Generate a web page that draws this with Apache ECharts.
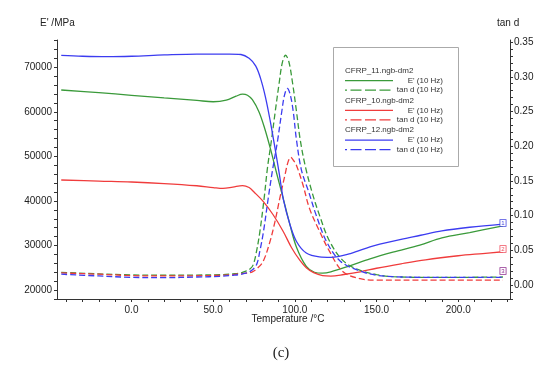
<!DOCTYPE html>
<html>
<head>
<meta charset="utf-8">
<script src="https://cdn.jsdelivr.net/npm/echarts@6/dist/echarts.min.js"></script>
<style>
html,body{margin:0;padding:0;background:#fff;}
#chart{width:550px;height:370px;}
</style>
</head>
<body>
<div id="chart"></div>
<script>
// ---------- data ----------
// E' (MPa), left axis
const t11E = [-43,-20,0,20,40,50,58,64,68,71,74,78,81.5,85.2,88.3,92.7,96.9,101,107,112,117,122,134,146,160,176.5,190,207,227.4];
const v11E = [64880,64300,63700,63100,62550,62250,62600,63500,63950,63700,62700,60000,56300,51500,47000,40800,34800,29600,25300,24000,23800,24100,25500,27000,28500,30100,31700,32900,34400];

const t10E = [-43,-20,0,20,40,50,56,62,68,72,75,80.6,86.7,92.8,98,103,107,111.5,117,122,130,140,150,165,180,200,215,227.4];
const v10E = [44700,44450,44250,43900,43400,43000,42800,43100,43450,43000,42000,39900,36900,33200,29500,26700,25000,23900,23250,23150,23500,24100,24900,25900,26800,27700,28200,28600];

const t12E = [-43,-30,-15,0,20,40,60,67,72,76,79,82,85,88,90.5,93,97,101,107,115,122,134,146,152,165,177,190,207,227.4];
const v12E = [72650,72450,72350,72450,72750,72950,72950,72850,72000,70300,67500,63300,57800,51500,46000,40300,34700,30900,28300,27450,27350,28200,29700,30300,31400,32300,33300,34100,34800];

// tan d, right axis
const t11T = [-43,-20,0,20,40,55,62,66,70,72.5,74.5,76.5,78.6,81.2,83.3,85.7,88,90.4,92.3,94.3,96.3,98.6,101,103.3,106.5,110.5,115,121.5,130,140,150,160,180,200,227.4];
const v11T = [0.0183,0.016,0.0145,0.014,0.0143,0.0148,0.016,0.0169,0.02,0.023,0.029,0.048,0.077,0.125,0.170,0.209,0.25,0.291,0.320,0.331,0.322,0.291,0.25,0.209,0.17,0.134,0.101,0.062,0.034,0.021,0.015,0.012,0.011,0.011,0.0115];

const t10T = [-43,-20,0,20,40,55,62,66,70,74,77,80.6,84.7,87.8,90.8,93.9,95.8,97.5,99.3,100.9,105,109,115.2,121.3,129.5,140,150,180,227.4];
const v10T = [0.0173,0.0155,0.0135,0.013,0.0133,0.014,0.015,0.016,0.017,0.019,0.024,0.034,0.062,0.091,0.125,0.158,0.177,0.184,0.179,0.173,0.144,0.110,0.077,0.048,0.019,0.009,0.007,0.007,0.007];

const t12T = [-43,-20,0,20,40,55,62,66,70,73,76.5,78.5,80.8,83.7,86.5,89.5,92,93.7,95.4,97.2,99,101,104,108.5,113,119.5,128,140,150,160,180,200,227.4];
const v12T = [0.0155,0.013,0.011,0.0105,0.0115,0.0125,0.014,0.015,0.017,0.02,0.029,0.048,0.077,0.125,0.168,0.209,0.25,0.274,0.2834,0.274,0.25,0.209,0.166,0.134,0.101,0.062,0.034,0.02,0.014,0.012,0.011,0.011,0.011];

// axes
const xLabels = [0,50,100,150,200];
const leftLabels = [20000,30000,40000,50000,60000,70000];
const rightLabels = [0,0.05,0.10,0.15,0.20,0.25,0.30,0.35];

const names = ['CFRP_11.ngb-dm2','CFRP_10.ngb-dm2','CFRP_12.ngb-dm2'];
const colors = ['#3a9a3a','#f03c3c','#3c3cf0'];

// ---------- helpers ----------
function zip(t, v){ return t.map((x,i)=>[x, v[i]]); }
function range(a, b, s){ const r=[]; for(let i=0;a+i*s<=b+1e-9;i++) r.push(+(a+i*s).toFixed(6)); return r; }

const axisLineStyle = {color:'#333', width:1};
const labelStyle = {color:'#222', fontSize:10, fontFamily:'Liberation Sans, Arial, sans-serif'};

function lineSeries(name, data, color, dashed, yIdx){
  return {
    name, type:'line', data, yAxisIndex:yIdx, showSymbol:false, symbol:'none',
    smooth:0.35,
    lineStyle:{color, width:1.3, type: dashed ? [6,3] : 'solid'},
    emphasis:{disabled:true}, silent:true, animation:false
  };
}

const series = [
  lineSeries(names[0]+" E'", zip(t11E,v11E), colors[0], false, 0),
  lineSeries(names[0]+" tan d", zip(t11T,v11T), colors[0], true, 1),
  lineSeries(names[1]+" E'", zip(t10E,v10E), colors[1], false, 0),
  lineSeries(names[1]+" tan d", zip(t10T,v10T), colors[1], true, 1),
  lineSeries(names[2]+" E'", zip(t12E,v12E), colors[2], false, 0),
  lineSeries(names[2]+" tan d", zip(t12T,v12T), colors[2], true, 1)
];

// ---------- legend (drawn as graphics) ----------
const lg = [];
const bx = 333, by = 47;
lg.push({type:'rect', shape:{x:bx+0.5, y:by+0.5, width:125, height:119}, style:{fill:'#fff', stroke:'#aaa', lineWidth:1}, z:10});
const font8 = '8px "Liberation Sans", Arial, sans-serif';
function txt(x,y,text,align,fill,font){
  return {type:'text', x, y, z:11, style:{text, font: font||font8, fill: fill||'#333',
    align: align||'left', verticalAlign:'middle', textAlign: align||'left', textVerticalAlign:'middle'}};
}
names.forEach((n,i)=>{
  const y0 = 70.7 + i*29.7;
  lg.push(txt(345, y0, n));
  lg.push({type:'line', z:11, shape:{x1:345,y1:y0+10,x2:393,y2:y0+10}, style:{stroke:colors[i], lineWidth:1.2}});
  lg.push(txt(443, y0+10, "E' (10 Hz)", 'right'));
  lg.push({type:'line', z:11, shape:{x1:345,y1:y0+19.5,x2:347,y2:y0+19.5}, style:{stroke:colors[i], lineWidth:1.2}});
  lg.push({type:'line', z:11, shape:{x1:350.5,y1:y0+19.5,x2:392,y2:y0+19.5}, style:{stroke:colors[i], lineWidth:1.2, lineDash:[11,3.5]}});
  lg.push(txt(443, y0+19.5, "tan d (10 Hz)", 'right'));
});

// axis names and caption
const font10 = '10px "Liberation Sans", Arial, sans-serif';
lg.push(txt(40, 23, "E' /MPa", 'left', '#222', font10));
lg.push(txt(497, 23, "tan d", 'left', '#222', font10));
lg.push(txt(288, 319, "Temperature /°C", 'center', '#222', font10));
lg.push(txt(281, 353, "(c)", 'center', '#222', '15px "Liberation Serif", "Times New Roman", serif'));

// end markers
function marker(x,y,t,c){
  return {type:'text', x, y, z:12, style:{text:t, font:'6px "Liberation Sans", Arial, sans-serif', fill:c,
    align:'center', verticalAlign:'middle', textAlign:'center', textVerticalAlign:'middle',
    borderColor:c, borderWidth:0.8, padding:[0,1,0,1], backgroundColor:'#fff'}};
}
lg.push(marker(503, 223, '1', '#4a4ae0'));
lg.push(marker(503, 249, '2', '#f05060'));
lg.push(marker(503, 271, '3', '#903090'));

const option = {
  animation:false,
  backgroundColor:'#fff',
  grid:{left:57, right:40, top:40, bottom:71, containLabel:false},
  xAxis:{
    type:'value', min:-45.6, max:231.7,
    axisLine:{show:true, onZero:false, lineStyle:axisLineStyle},
    axisTick:{show:true, inside:false, length:3, lineStyle:axisLineStyle, customValues: range(-40,230,10)},
    axisLabel:{...labelStyle, margin:6, customValues: xLabels, formatter:v=>Number(v).toFixed(1)},
    splitLine:{show:false}
  },
  yAxis:[{
    type:'value', min:18000, max:76100, position:'left',
    axisLine:{show:true, onZero:false, lineStyle:axisLineStyle},
    axisTick:{show:true, inside:false, length:3, lineStyle:axisLineStyle, customValues: range(18000,76000,2000)},
    axisLabel:{...labelStyle, margin:5, customValues: leftLabels, formatter:v=>String(Math.round(v))},
    splitLine:{show:false}
  },{
    type:'value', min:-0.0202, max:0.353, position:'right',
    axisLine:{show:true, onZero:false, lineStyle:axisLineStyle},
    axisTick:{show:true, inside:false, length:3, lineStyle:axisLineStyle, customValues: range(-0.02,0.35,0.01)},
    axisLabel:{...labelStyle, margin:4, customValues: rightLabels, formatter:v=>Number(v).toFixed(2)},
    splitLine:{show:false}
  }],
  graphic: lg,
  series
};
const chart = echarts.init(document.getElementById('chart'), null, {renderer:'canvas'});
chart.setOption(option);
</script>
</body>
</html>
